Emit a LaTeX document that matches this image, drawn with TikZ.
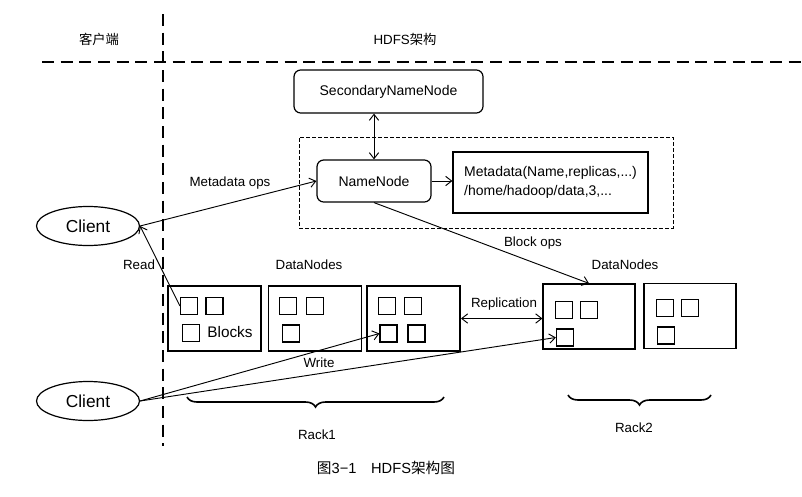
\documentclass[tikz,border=0pt]{standalone}
\usepackage{fontspec}
\setmainfont{Liberation Sans}
\newfontfamily\cjk{Noto Sans CJK SC}
\usetikzlibrary{arrows.meta,decorations.pathreplacing,shapes.geometric,calc}

\begin{document}
\begin{tikzpicture}[x=0.75pt,y=-0.75pt,
  arr/.style={-{Straight Barb[length=4.5pt,width=7pt]}, line width=0.7pt},
  darr/.style={{Straight Barb[length=4.5pt,width=7pt]}-{Straight Barb[length=4.5pt,width=7pt]}, line width=0.7pt},
  sep/.style={line width=1.5pt, dash pattern=on 9pt off 5pt},
  rbox/.style 2 args={draw, rounded corners=5pt, line width=0.9pt, minimum width=#1*0.75pt, minimum height=#2*0.75pt, inner sep=0pt, font=\fontsize{10.5}{12}\selectfont},
  dnode/.style={draw, line width=1.4pt, minimum width=69.75pt, minimum height=48.75pt, inner sep=0pt},
  dnodeb/.style={draw, line width=0.9pt, minimum width=69pt, minimum height=48.75pt, inner sep=0pt},
  blk/.style={draw, line width=0.9pt, minimum size=12.75pt, inner sep=0pt},
  lbl/.style={font=\fontsize{10}{12}\selectfont, inner sep=1pt},
  hdr/.style={font=\fontsize{10}{12}\selectfont, inner sep=1pt},
  client/.style={draw, ellipse, line width=0.9pt, minimum width=77.25pt, minimum height=29.25pt, inner sep=0pt, font=\fontsize{13}{15}\selectfont},
  brc/.style={decorate, decoration={brace, amplitude=7.5pt}, line width=1.2pt},
]
\path[use as bounding box] (0,0) rectangle (802,496);

% headers and separators
\node[hdr] (hclient) at (99,39) {\cjk 客户端};
\node[hdr] (hhdfs) at (405,39) {HDFS{\cjk 架构}};
\coordinate (vtop) at (163,14);
\coordinate (vbot) at (163,446);
\coordinate (hl) at (42,62);
\coordinate (hr) at (802,62);
\draw[sep] (vtop) -- (vbot);
\draw[sep] (hl) -- (hr);

% name nodes
\node[rbox={189}{43}] (snn) at (388.5,91.5) {SecondaryNameNode};
\node[draw, dash pattern=on 3pt off 1.5pt, line width=0.6pt, minimum width=280.5pt, minimum height=68.25pt, inner sep=0pt] (grp) at (486,182.5) {};
\node[rbox={114}{42}] (nn) at (374,181) {NameNode};
\node[draw, line width=0.9pt, minimum width=146.25pt, minimum height=45.75pt, inner sep=0pt, align=left, font=\fontsize{10.5}{14}\selectfont] (meta) at (550.5,182.5) {Metadata(Name,replicas,...)\\/home/hadoop/data,3,...};

% clients
\node[client] (c1) at (88,226) {Client};
\node[client] (c2) at (88,401) {Client};

% data nodes
\node[lbl] (dnl1) at (309,265) {DataNodes};
\node[lbl] (dnl2) at (625,265) {DataNodes};
\node[dnode] (b1) at (214.5,318.5) {};
\node[dnode] (b2) at (315,318.5) {};
\node[dnode] (b3) at (413.5,318.5) {};
\node[dnodeb] (b4) at (589,316.5) {};
\node[dnodeb] (b5) at (690,316) {};

\node[blk] (b1a) at (189,306) {};
\node[blk] (b1b) at (214.5,306) {};
\node[blk] (b1c) at (191,333) {};
\node[font=\fontsize{11.5}{13}\selectfont, inner sep=0pt] (blocks) at (230,332) {Blocks};

\node[blk] (b2a) at (288,306) {};
\node[blk] (b2b) at (315,306) {};
\node[blk] (b2c) at (291,333.5) {};

\node[blk] (b3a) at (387,306) {};
\node[blk] (b3b) at (413,306) {};
\node[blk] (b3c) at (388.5,333.5) {};
\node[blk] (b3d) at (416.5,333.5) {};

\node[blk] (b4a) at (564,310) {};
\node[blk] (b4b) at (589,310) {};
\node[blk] (b4c) at (565,337.5) {};

\node[blk] (b5a) at (665,308) {};
\node[blk] (b5b) at (690,308) {};
\node[blk] (b5c) at (666,335.5) {};

% connectors
\draw[darr] (nn.north |- snn.south) -- (nn.north);
\draw[arr] (nn.east) -- (nn.east -| meta.west);
\draw[arr] (c1.east) -- (nn.west);
\node[lbl] (lmeta) at (230,183) {Metadata ops};
\draw[arr] (b1a.west) -- (c1.east);
\node[lbl] (lread) at (139,265) {Read};
\draw[arr] (nn.south) -- (b4.north);
\node[lbl] (lblock) at (533,243) {Block ops};
\draw[darr] (b3.east) -- (b3.east -| b4.west);
\node[lbl] (lrep) at (504,304) {Replication};
\draw[arr] (c2.east) -- (b3c.west);
\draw[arr] (c2.east) -- (b4c.west);
\node[lbl] (lwrite) at (319,363) {Write};

% racks
\draw[brc] (444,397) -- (187,397);
\draw[brc] (711,395) -- (568,395);
\node[lbl] (rack1) at (317,435) {Rack1};
\node[lbl] (rack2) at (634,428) {Rack2};

% caption
\node[font=\fontsize{11}{13}\selectfont, inner sep=1pt] (cap) at (386,468) {{\cjk 图}3−1\quad HDFS{\cjk 架构图}};
\end{tikzpicture}
\end{document}
